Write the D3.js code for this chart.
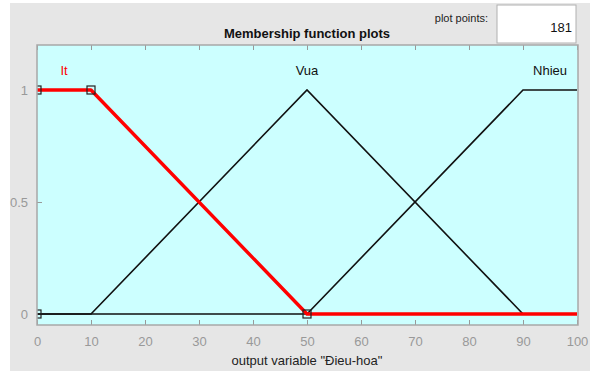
<!DOCTYPE html>
<html>
<head>
<meta charset="utf-8">
<script src="https://cdn.jsdelivr.net/npm/d3@7"></script>
<style>
  html, body { margin: 0; padding: 0; background: #ffffff; }
  svg { display: block; font-family: "Liberation Sans", Arial, sans-serif; }
</style>
</head>
<body>
<svg id="chart" width="590" height="371"></svg>
<script>
// Membership functions of output variable "Đieu-hoa"
const mfNames = ["It", "Vua", "Nhieu"];
const mfXs = [
  [0, 0, 10, 50, 100],
  [0, 10, 50, 90, 100],
  [0, 50, 90, 100]
];
const mfYs = [
  [0, 1, 1, 0, 0],
  [0, 0, 1, 0, 0],
  [0, 0, 1, 1]
];
const labelX = [5, 50, 95];
const selectedMf = 0;
const xTicks = [0, 10, 20, 30, 40, 50, 60, 70, 80, 90, 100];
const yTicks = [0, 0.5, 1];
const plotPoints = "181";

const svg = d3.select("#chart");
const W = 590, H = 371;

// window panel
svg.append("rect").attr("x", 10).attr("y", 3).attr("width", W - 10).attr("height", H - 3)
  .attr("fill", "#e6e6e6");

const plot = { left: 37, top: 45, right: 578, bottom: 325 };
const x = d3.scaleLinear().domain([0, 100]).range([plot.left, plot.right - 1]);
const y = d3.scaleLinear().domain([0, 1]).range([314, 90]);

// axes background
svg.append("rect")
  .attr("x", plot.left).attr("y", plot.top)
  .attr("width", plot.right - plot.left).attr("height", plot.bottom - plot.top)
  .attr("fill", "#ccffff");

svg.append("clipPath").attr("id", "plotClip").append("rect")
  .attr("x", plot.left).attr("y", plot.top)
  .attr("width", plot.right - plot.left).attr("height", plot.bottom - plot.top);

// ticks inside the box (bottom, top, left)
const tickColor = "#999999";
const bottomAxis = d3.axisBottom(x).tickValues(xTicks).tickSize(-5).tickPadding(12).tickFormat(d3.format("d"));
const gB = svg.append("g").attr("transform", `translate(0,${plot.bottom})`).call(bottomAxis);
gB.select(".domain").remove();
gB.selectAll("line").attr("stroke", tickColor);
gB.selectAll("text").attr("fill", "#999999").attr("font-size", 13).attr("dy", "0.71em");

const topAxis = d3.axisTop(x).tickValues(xTicks).tickSize(-5).tickFormat("");
const gT = svg.append("g").attr("transform", `translate(0,${plot.top})`).call(topAxis);
gT.select(".domain").remove();
gT.selectAll("line").attr("stroke", tickColor);

const leftAxis = d3.axisLeft(y).tickValues(yTicks).tickSize(-5).tickPadding(9)
  .tickFormat(d => d === 0.5 ? "0.5" : d3.format("d")(d));
const gL = svg.append("g").attr("transform", `translate(${plot.left},0)`).call(leftAxis);
gL.select(".domain").remove();
gL.selectAll("line").attr("stroke", tickColor);
gL.selectAll("text").attr("fill", "#999999").attr("font-size", 13);

// membership curves
const line = d3.line().x(d => x(d[0])).y(d => y(d[1]));
const curves = svg.append("g").attr("clip-path", "url(#plotClip)");
mfNames.forEach((name, i) => {
  if (i === selectedMf) return;
  const pts = mfXs[i].map((v, k) => [v, mfYs[i][k]]);
  curves.append("path").attr("d", line(pts)).attr("fill", "none")
    .attr("stroke", "#111111").attr("stroke-width", 1.6);
});
{
  const pts = mfXs[selectedMf].map((v, k) => [v, mfYs[selectedMf][k]]);
  // the vertical rise at the left limit lies on the axis box, so the red trace starts at the shoulder
  curves.append("path").attr("d", line(pts.slice(1))).attr("fill", "none")
    .attr("stroke", "#ff0000").attr("stroke-width", 3.4).attr("stroke-linejoin", "round");
  // vertex handles of the selected function
  const handles = pts.slice(0, 4);
  curves.selectAll("rect.handle").data(handles).enter().append("rect")
    .attr("class", "handle")
    .attr("x", d => x(d[0]) - 4).attr("y", d => y(d[1]) - 4)
    .attr("width", 8).attr("height", 8)
    .attr("fill", "none").attr("stroke", "#222222").attr("stroke-width", 1.2);
}

// box border
svg.append("rect")
  .attr("x", plot.left).attr("y", plot.top)
  .attr("width", plot.right - plot.left).attr("height", plot.bottom - plot.top)
  .attr("fill", "none").attr("stroke", "#a8a8a8").attr("stroke-width", 1.5);

// function names
mfNames.forEach((name, i) => {
  svg.append("text").attr("x", x(labelX[i])).attr("y", 75)
    .attr("text-anchor", "middle").attr("font-size", 13)
    .attr("fill", i === selectedMf ? "#ff0000" : "#111111")
    .text(name);
});

// titles
svg.append("text").attr("x", 307).attr("y", 38).attr("text-anchor", "middle")
  .attr("font-size", 13).attr("font-weight", "bold").attr("fill", "#111111")
  .text("Membership function plots");
svg.append("text").attr("x", 307).attr("y", 365).attr("text-anchor", "middle")
  .attr("font-size", 13).attr("fill", "#222222")
  .text('output variable "Đieu-hoa"');

// plot points control
svg.append("text").attr("x", 488).attr("y", 22).attr("text-anchor", "end")
  .attr("font-size", 11).attr("fill", "#222222").text("plot points:");
svg.append("rect").attr("x", 497).attr("y", 5).attr("width", 79).attr("height", 38)
  .attr("fill", "#ffffff").attr("stroke", "#b0b0b0").attr("stroke-width", 1);
svg.append("text").attr("x", 572).attr("y", 32).attr("text-anchor", "end")
  .attr("font-size", 13).attr("fill", "#111111").text(plotPoints);
</script>
</body>
</html>
